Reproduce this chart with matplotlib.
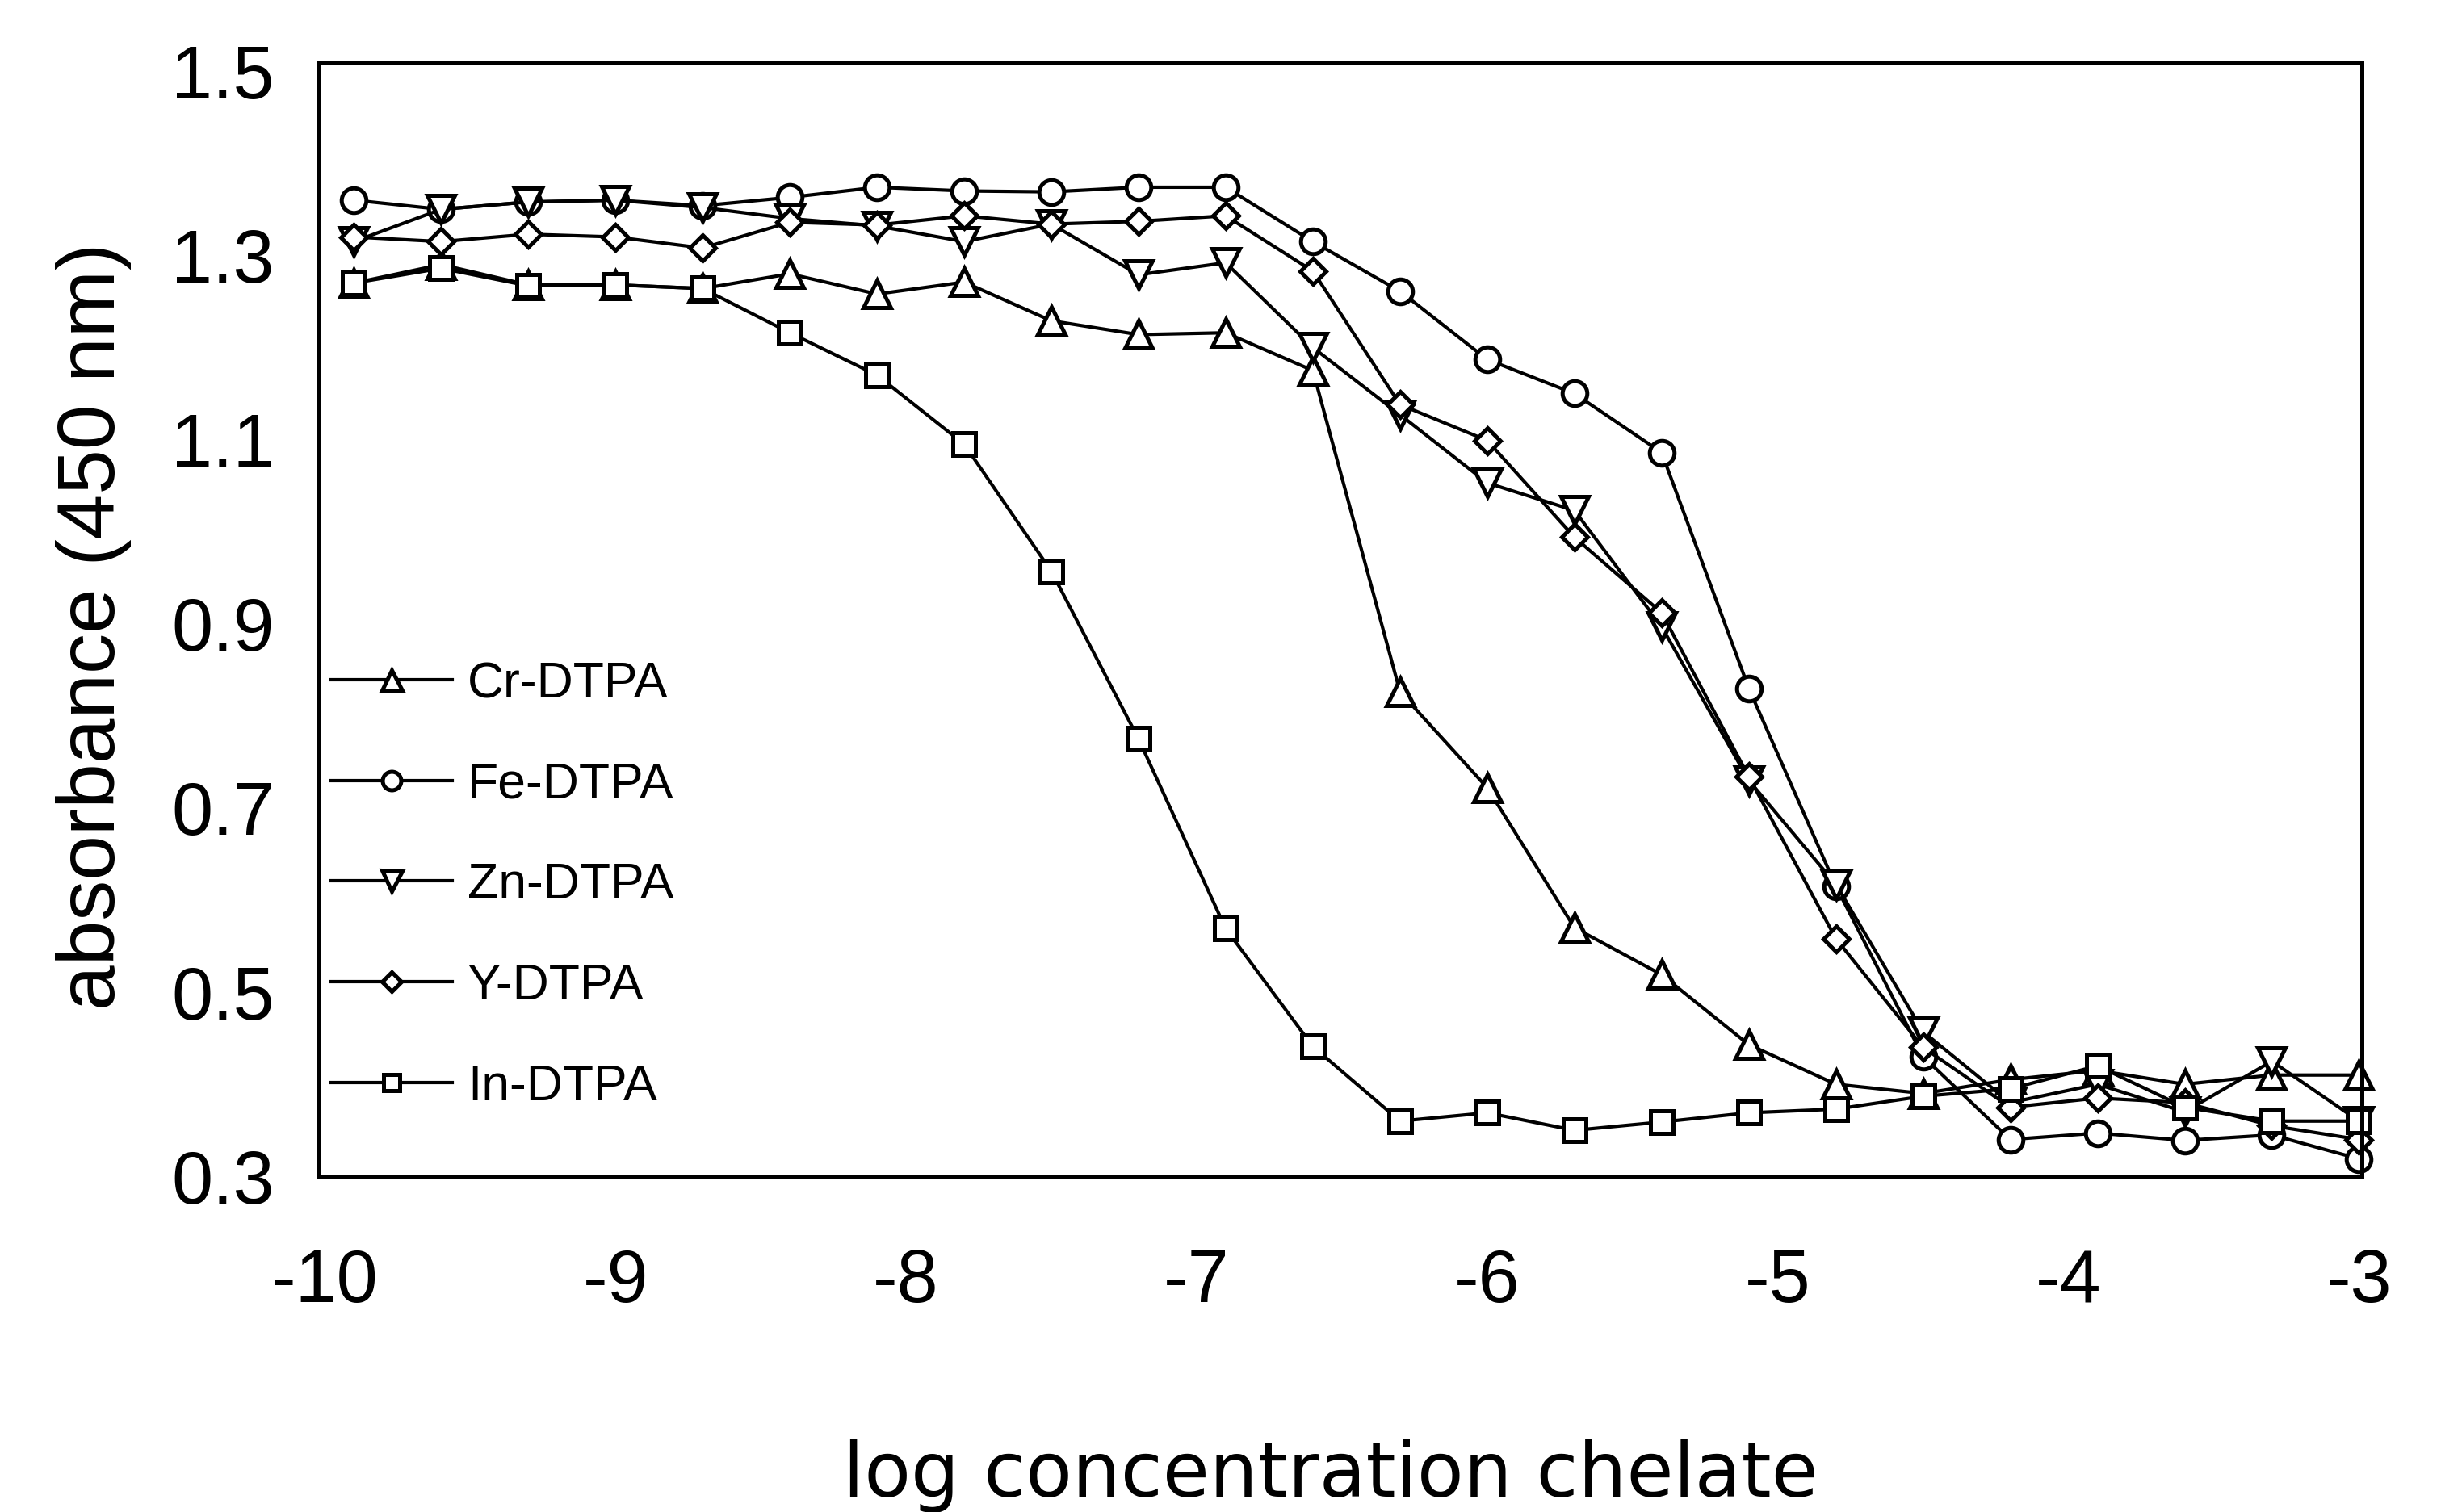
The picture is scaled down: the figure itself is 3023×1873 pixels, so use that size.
import matplotlib
matplotlib.use("Agg")
import matplotlib.pyplot as plt

plt.rcParams['font.family'] = ['Liberation Sans', 'DejaVu Sans']

# log concentration of chelate (2-fold dilutions)
log_conc = [-9.9, -9.6, -9.3, -9.0, -8.7, -8.4, -8.1, -7.8, -7.5, -7.2, -6.9, -6.6,
            -6.3, -6.0, -5.7, -5.4, -5.1, -4.8, -4.5, -4.2, -3.9, -3.6, -3.3, -3.0]

cr_dtpa = [1.27, 1.29, 1.268, 1.268, 1.264, 1.28, 1.258, 1.271, 1.229, 1.214, 1.216, 1.175,
           0.826, 0.722, 0.57, 0.519, 0.443, 0.40, 0.39, 0.405, 0.415, 0.40, 0.41, 0.41]
fe_dtpa = [1.36, 1.35, 1.358, 1.36, 1.354, 1.363, 1.374, 1.37, 1.369, 1.374, 1.374, 1.315,
           1.261, 1.187, 1.15, 1.086, 0.83, 0.615, 0.43, 0.34, 0.347, 0.339, 0.345, 0.319]
zn_dtpa = [1.315, 1.35, 1.358, 1.36, 1.352, 1.34, 1.332, 1.315, 1.334, 1.279, 1.292, 1.2,
           1.127, 1.053, 1.023, 0.897, 0.73, 0.617, 0.457, 0.38, 0.40, 0.37, 0.425, 0.36]
y_dtpa = [1.32, 1.315, 1.323, 1.32, 1.308, 1.336, 1.333, 1.343, 1.334, 1.337, 1.343, 1.283,
          1.138, 1.099, 0.994, 0.912, 0.734, 0.558, 0.44, 0.375, 0.385, 0.38, 0.355, 0.34]
in_dtpa = [1.27, 1.286, 1.267, 1.268, 1.264, 1.216, 1.17, 1.095, 0.957, 0.775, 0.569, 0.441,
           0.36, 0.369, 0.35, 0.359, 0.369, 0.373, 0.387, 0.395, 0.42, 0.375, 0.36, 0.36]

series = [("Cr-DTPA", cr_dtpa, "^"),
          ("Fe-DTPA", fe_dtpa, "o"),
          ("Zn-DTPA", zn_dtpa, "v"),
          ("Y-DTPA", y_dtpa, "D"),
          ("In-DTPA", in_dtpa, "s")]
msizes = {"^": 12, "o": 11, "v": 12, "D": 8, "s": 10}

xticks = [-10, -9, -8, -7, -6, -5, -4, -3]
yticks = [0.3, 0.5, 0.7, 0.9, 1.1, 1.3, 1.5]

fig = plt.figure(figsize=(15.115, 9.365), dpi=200)
ax = fig.add_axes([0.1307, 0.222, 0.8369, 0.737])

for name, vals, mk in series:
    ax.plot(log_conc, vals, color='black', lw=1.5, marker=mk, ms=msizes[mk],
            mfc='white', mec='black', mew=1.8, label=name, clip_on=False)

ax.set_xlim(-10.02, -2.99)
ax.set_ylim(0.3, 1.51)
ax.set_xticks(xticks)
ax.set_xticklabels([str(t) for t in xticks])
ax.set_yticks(yticks)
ax.set_yticklabels(["%.1f" % t for t in yticks])
ax.tick_params(axis='both', length=0, labelsize=33)
ax.tick_params(axis='x', pad=32)
ax.tick_params(axis='y', pad=20)
for sp in ax.spines.values():
    sp.set_linewidth(1.8)

leg = ax.legend(loc='upper left', bbox_to_anchor=(0.006, 0.463), frameon=False,
                fontsize=22.5, handlelength=2.4, handletextpad=0.3, labelspacing=1.05,
                borderpad=0, borderaxespad=0, markerscale=0.75)

fig.text(0.0384, 0.586, "absorbance (450 nm)", rotation=90, ha='center', va='center',
         fontsize=36)
fig.text(0.545, 0.024, "log concentration chelate", ha='center', va='center',
         fontsize=34, family='DejaVu Sans')

fig.savefig("out.png", dpi=200)
